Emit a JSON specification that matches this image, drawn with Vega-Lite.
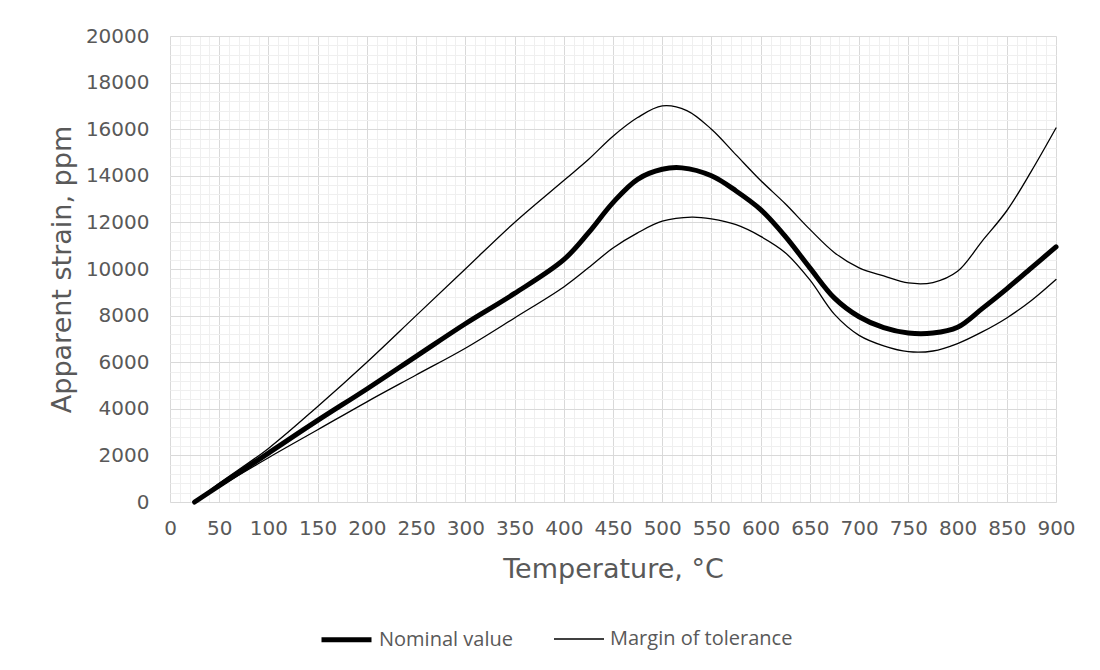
{
  "$schema": "https://vega.github.io/schema/vega-lite/v6.json",
  "autosize": "none",
  "width": 886,
  "height": 466,
  "padding": {"left": 170, "top": 36, "right": 44, "bottom": 168},
  "background": "white",
  "config": {
    "view": {"stroke": "#d9d9d9", "strokeWidth": 1},
    "axis": {"labelFont": "DejaVu Sans", "titleFont": "DejaVu Sans", "labelColor": "#595959", "titleColor": "#595959", "titleFontWeight": "normal", "labelFlush": false, "labelOverlap": false}
  },
  "data": {
    "values": [
      {"series": "nominal", "type": "Nominal value", "T": 25, "v": 0},
      {"series": "nominal", "type": "Nominal value", "T": 50, "v": 700},
      {"series": "nominal", "type": "Nominal value", "T": 100, "v": 2100},
      {"series": "nominal", "type": "Nominal value", "T": 150, "v": 3500},
      {"series": "nominal", "type": "Nominal value", "T": 200, "v": 4850},
      {"series": "nominal", "type": "Nominal value", "T": 250, "v": 6250},
      {"series": "nominal", "type": "Nominal value", "T": 300, "v": 7650},
      {"series": "nominal", "type": "Nominal value", "T": 350, "v": 8950},
      {"series": "nominal", "type": "Nominal value", "T": 400, "v": 10400},
      {"series": "nominal", "type": "Nominal value", "T": 425, "v": 11550},
      {"series": "nominal", "type": "Nominal value", "T": 450, "v": 12850},
      {"series": "nominal", "type": "Nominal value", "T": 475, "v": 13850},
      {"series": "nominal", "type": "Nominal value", "T": 500, "v": 14280},
      {"series": "nominal", "type": "Nominal value", "T": 520, "v": 14340},
      {"series": "nominal", "type": "Nominal value", "T": 550, "v": 14000},
      {"series": "nominal", "type": "Nominal value", "T": 575, "v": 13350},
      {"series": "nominal", "type": "Nominal value", "T": 600, "v": 12550},
      {"series": "nominal", "type": "Nominal value", "T": 625, "v": 11400},
      {"series": "nominal", "type": "Nominal value", "T": 650, "v": 10050},
      {"series": "nominal", "type": "Nominal value", "T": 675, "v": 8750},
      {"series": "nominal", "type": "Nominal value", "T": 700, "v": 7950},
      {"series": "nominal", "type": "Nominal value", "T": 725, "v": 7480},
      {"series": "nominal", "type": "Nominal value", "T": 750, "v": 7250},
      {"series": "nominal", "type": "Nominal value", "T": 775, "v": 7250},
      {"series": "nominal", "type": "Nominal value", "T": 800, "v": 7500},
      {"series": "nominal", "type": "Nominal value", "T": 825, "v": 8300},
      {"series": "nominal", "type": "Nominal value", "T": 850, "v": 9150},
      {"series": "nominal", "type": "Nominal value", "T": 875, "v": 10050},
      {"series": "nominal", "type": "Nominal value", "T": 900, "v": 10950},
      {"series": "upper", "type": "Margin of tolerance", "T": 25, "v": 0},
      {"series": "upper", "type": "Margin of tolerance", "T": 50, "v": 800},
      {"series": "upper", "type": "Margin of tolerance", "T": 100, "v": 2300},
      {"series": "upper", "type": "Margin of tolerance", "T": 150, "v": 4100},
      {"series": "upper", "type": "Margin of tolerance", "T": 200, "v": 6000},
      {"series": "upper", "type": "Margin of tolerance", "T": 250, "v": 8000},
      {"series": "upper", "type": "Margin of tolerance", "T": 300, "v": 10000},
      {"series": "upper", "type": "Margin of tolerance", "T": 350, "v": 12000},
      {"series": "upper", "type": "Margin of tolerance", "T": 400, "v": 13800},
      {"series": "upper", "type": "Margin of tolerance", "T": 425, "v": 14700},
      {"series": "upper", "type": "Margin of tolerance", "T": 450, "v": 15700},
      {"series": "upper", "type": "Margin of tolerance", "T": 475, "v": 16500},
      {"series": "upper", "type": "Margin of tolerance", "T": 500, "v": 17000},
      {"series": "upper", "type": "Margin of tolerance", "T": 525, "v": 16800},
      {"series": "upper", "type": "Margin of tolerance", "T": 550, "v": 16000},
      {"series": "upper", "type": "Margin of tolerance", "T": 575, "v": 14900},
      {"series": "upper", "type": "Margin of tolerance", "T": 600, "v": 13800},
      {"series": "upper", "type": "Margin of tolerance", "T": 625, "v": 12800},
      {"series": "upper", "type": "Margin of tolerance", "T": 650, "v": 11700},
      {"series": "upper", "type": "Margin of tolerance", "T": 675, "v": 10700},
      {"series": "upper", "type": "Margin of tolerance", "T": 700, "v": 10050},
      {"series": "upper", "type": "Margin of tolerance", "T": 725, "v": 9700},
      {"series": "upper", "type": "Margin of tolerance", "T": 750, "v": 9400},
      {"series": "upper", "type": "Margin of tolerance", "T": 775, "v": 9420},
      {"series": "upper", "type": "Margin of tolerance", "T": 800, "v": 9900},
      {"series": "upper", "type": "Margin of tolerance", "T": 825, "v": 11200},
      {"series": "upper", "type": "Margin of tolerance", "T": 850, "v": 12500},
      {"series": "upper", "type": "Margin of tolerance", "T": 875, "v": 14200},
      {"series": "upper", "type": "Margin of tolerance", "T": 900, "v": 16050},
      {"series": "lower", "type": "Margin of tolerance", "T": 25, "v": 0},
      {"series": "lower", "type": "Margin of tolerance", "T": 50, "v": 650},
      {"series": "lower", "type": "Margin of tolerance", "T": 100, "v": 1900},
      {"series": "lower", "type": "Margin of tolerance", "T": 150, "v": 3100},
      {"series": "lower", "type": "Margin of tolerance", "T": 200, "v": 4300},
      {"series": "lower", "type": "Margin of tolerance", "T": 250, "v": 5450},
      {"series": "lower", "type": "Margin of tolerance", "T": 300, "v": 6600},
      {"series": "lower", "type": "Margin of tolerance", "T": 350, "v": 7900},
      {"series": "lower", "type": "Margin of tolerance", "T": 400, "v": 9230},
      {"series": "lower", "type": "Margin of tolerance", "T": 425, "v": 10050},
      {"series": "lower", "type": "Margin of tolerance", "T": 450, "v": 10900},
      {"series": "lower", "type": "Margin of tolerance", "T": 475, "v": 11550},
      {"series": "lower", "type": "Margin of tolerance", "T": 500, "v": 12050},
      {"series": "lower", "type": "Margin of tolerance", "T": 530, "v": 12230},
      {"series": "lower", "type": "Margin of tolerance", "T": 550, "v": 12150},
      {"series": "lower", "type": "Margin of tolerance", "T": 575, "v": 11900},
      {"series": "lower", "type": "Margin of tolerance", "T": 600, "v": 11400},
      {"series": "lower", "type": "Margin of tolerance", "T": 625, "v": 10700},
      {"series": "lower", "type": "Margin of tolerance", "T": 650, "v": 9530},
      {"series": "lower", "type": "Margin of tolerance", "T": 675, "v": 8050},
      {"series": "lower", "type": "Margin of tolerance", "T": 700, "v": 7150},
      {"series": "lower", "type": "Margin of tolerance", "T": 725, "v": 6700},
      {"series": "lower", "type": "Margin of tolerance", "T": 750, "v": 6450},
      {"series": "lower", "type": "Margin of tolerance", "T": 775, "v": 6480},
      {"series": "lower", "type": "Margin of tolerance", "T": 800, "v": 6800},
      {"series": "lower", "type": "Margin of tolerance", "T": 825, "v": 7300},
      {"series": "lower", "type": "Margin of tolerance", "T": 850, "v": 7900},
      {"series": "lower", "type": "Margin of tolerance", "T": 875, "v": 8650},
      {"series": "lower", "type": "Margin of tolerance", "T": 900, "v": 9550}
    ]
  },
  "resolve": {"axis": {"x": "independent", "y": "independent"}},
  "layer": [
    {
      "mark": {"type": "line", "opacity": 0},
      "encoding": {
        "x": {"field": "T", "type": "quantitative", "scale": {"domain": [0, 900], "nice": false},
          "axis": {"orient": "bottom", "values": [0,10,20,30,40,50,60,70,80,90,100,110,120,130,140,150,160,170,180,190,200,210,220,230,240,250,260,270,280,290,300,310,320,330,340,350,360,370,380,390,400,410,420,430,440,450,460,470,480,490,500,510,520,530,540,550,560,570,580,590,600,610,620,630,640,650,660,670,680,690,700,710,720,730,740,750,760,770,780,790,800,810,820,830,840,850,860,870,880,890,900],
            "grid": true, "gridColor": "#efefef", "gridWidth": 1, "labels": false, "ticks": false, "domain": false, "title": null}},
        "y": {"field": "v", "type": "quantitative", "scale": {"domain": [0, 20000], "nice": false},
          "axis": {"orient": "left", "values": [0,400,800,1200,1600,2000,2400,2800,3200,3600,4000,4400,4800,5200,5600,6000,6400,6800,7200,7600,8000,8400,8800,9200,9600,10000,10400,10800,11200,11600,12000,12400,12800,13200,13600,14000,14400,14800,15200,15600,16000,16400,16800,17200,17600,18000,18400,18800,19200,19600,20000],
            "grid": true, "gridColor": "#efefef", "gridWidth": 1, "labels": false, "ticks": false, "domain": false, "title": null}},
        "detail": {"field": "series"}
      }
    },
    {
      "mark": {"type": "line", "interpolate": "catmull-rom", "stroke": "black", "strokeCap": "round", "strokeJoin": "round"},
      "encoding": {
        "x": {"field": "T", "type": "quantitative", "scale": {"domain": [0, 900], "nice": false},
          "axis": {"orient": "bottom", "values": [0,50,100,150,200,250,300,350,400,450,500,550,600,650,700,750,800,850,900], "format": "d",
            "grid": true, "gridColor": "#d9d9d9", "gridWidth": 1, "ticks": false, "domain": false,
            "labelFontSize": 20, "labelPadding": 16,
            "title": "Temperature, °C", "titleFontSize": 27, "titleX": 443, "titleY": 75, "titleAlign": "center", "titleBaseline": "alphabetic"}},
        "y": {"field": "v", "type": "quantitative", "scale": {"domain": [0, 20000], "nice": false},
          "axis": {"orient": "left", "values": [0,2000,4000,6000,8000,10000,12000,14000,16000,18000,20000], "format": "d",
            "grid": true, "gridColor": "#d9d9d9", "gridWidth": 1, "ticks": false, "domain": false,
            "labelFontSize": 20, "labelPadding": 21,
            "title": "Apparent strain, ppm", "titleFontSize": 27, "titleX": -100, "titleY": 233, "titleAlign": "center", "titleBaseline": "alphabetic", "titleAngle": -90}},
        "detail": {"field": "series"},
        "strokeWidth": {"field": "type", "type": "nominal",
          "scale": {"domain": ["Nominal value", "Margin of tolerance"], "range": [5, 1.3]},
          "legend": {"title": null, "orient": "none", "legendX": 149, "legendY": 576, "direction": "horizontal",
            "symbolType": "stroke", "symbolSize": 2500, "symbolStrokeColor": "black",
            "labelFont": "Open Sans", "labelFontSize": 20, "labelLimit": 400, "labelColor": "#595959", "labelOffset": 5, "columnPadding": 38}}
      }
    }
  ]
}
